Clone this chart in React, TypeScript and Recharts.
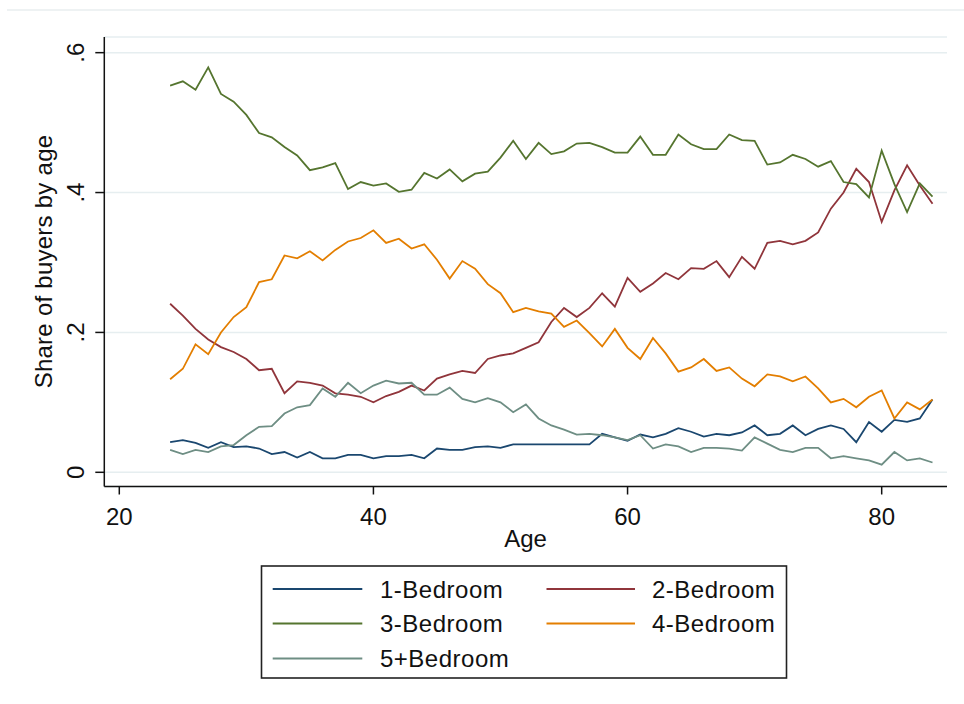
import React from "react";
import { LineChart, Line, XAxis, YAxis, CartesianGrid } from "recharts";

const ages: number[] = [
  24, 25, 26, 27, 28, 29, 30, 31, 32, 33, 34, 35, 36, 37, 38, 39, 40, 41, 42, 43, 44,
  45, 46, 47, 48, 49, 50, 51, 52, 53, 54, 55, 56, 57, 58, 59, 60, 61, 62, 63, 64,
  65, 66, 67, 68, 69, 70, 71, 72, 73, 74, 75, 76, 77, 78, 79, 80, 81, 82, 83, 84,
];

const bed1: number[] = [
  0.043, 0.046, 0.042, 0.035, 0.043, 0.036, 0.037, 0.034, 0.026, 0.029, 0.021,
  0.029, 0.02, 0.02, 0.025, 0.025, 0.02, 0.023, 0.023, 0.025, 0.02,
  0.034, 0.032, 0.032, 0.036, 0.037, 0.035, 0.04, 0.04, 0.04, 0.04, 0.04, 0.04, 0.04, 0.055, 0.05, 0.045,
  0.054, 0.05, 0.055, 0.063, 0.058, 0.051, 0.055, 0.053, 0.057, 0.067, 0.053, 0.055, 0.067, 0.053, 0.062,
  0.067, 0.062, 0.043, 0.072, 0.058, 0.075, 0.072, 0.077, 0.104,
];

const bed2: number[] = [
  0.241, 0.224, 0.205, 0.19, 0.179, 0.172, 0.162, 0.146, 0.148, 0.113, 0.13,
  0.128, 0.124, 0.113, 0.111, 0.108, 0.1, 0.109, 0.115, 0.124, 0.117,
  0.134, 0.14, 0.145, 0.142, 0.162, 0.167, 0.17, 0.178, 0.186, 0.215, 0.235, 0.222, 0.235, 0.256, 0.237, 0.278,
  0.258, 0.27, 0.285, 0.276, 0.292, 0.291, 0.302, 0.279, 0.308, 0.291, 0.328, 0.331, 0.326, 0.331, 0.343,
  0.377, 0.4, 0.434, 0.415, 0.358, 0.403, 0.439, 0.41, 0.384,
];

const bed3: number[] = [
  0.553, 0.559, 0.547, 0.579, 0.541, 0.53, 0.511, 0.485, 0.479, 0.465, 0.453,
  0.432, 0.436, 0.442, 0.405, 0.415, 0.41, 0.413, 0.401, 0.404, 0.428,
  0.42, 0.433, 0.416, 0.427, 0.43, 0.45, 0.474, 0.448, 0.471, 0.455, 0.459, 0.47, 0.471, 0.465, 0.457, 0.457,
  0.48, 0.454, 0.454, 0.483, 0.469, 0.462, 0.462, 0.483, 0.475, 0.474, 0.44, 0.443, 0.454, 0.448, 0.437,
  0.445, 0.415, 0.412, 0.393, 0.46, 0.412, 0.372, 0.413, 0.394,
];

const bed4: number[] = [
  0.133, 0.148, 0.183, 0.169, 0.2, 0.222, 0.236, 0.272, 0.276, 0.31, 0.306,
  0.316, 0.303, 0.318, 0.33, 0.335, 0.346, 0.328, 0.334, 0.32, 0.326,
  0.304, 0.277, 0.302, 0.291, 0.269, 0.256, 0.229, 0.235, 0.23, 0.227, 0.208, 0.217, 0.199, 0.18, 0.205, 0.178,
  0.162, 0.192, 0.17, 0.144, 0.15, 0.162, 0.145, 0.15, 0.134, 0.123, 0.14, 0.137, 0.13, 0.137, 0.12,
  0.1, 0.105, 0.093, 0.108, 0.117, 0.077, 0.1, 0.09, 0.104,
];

const bed5: number[] = [
  0.032, 0.026, 0.032, 0.029, 0.037, 0.039, 0.053, 0.065, 0.066, 0.084, 0.093,
  0.096, 0.12, 0.108, 0.128, 0.113, 0.124, 0.131, 0.127, 0.128, 0.111,
  0.111, 0.121, 0.105, 0.1, 0.106, 0.1, 0.086, 0.097, 0.077, 0.067, 0.061, 0.054, 0.055, 0.053, 0.05, 0.046,
  0.053, 0.034, 0.04, 0.037, 0.029, 0.035, 0.035, 0.034, 0.031, 0.05, 0.041, 0.032, 0.029, 0.035, 0.035,
  0.02, 0.023, 0.02, 0.017, 0.011, 0.029, 0.017, 0.02, 0.014,
];

const xTicks: number[] = [20, 40, 60, 80];
const yTicks: number[] = [0, 0.2, 0.4, 0.6];
const yTickLabels: string[] = ["0", ".2", ".4", ".6"];

const seriesNames: string[] = ["1-Bedroom", "2-Bedroom", "3-Bedroom", "4-Bedroom", "5+Bedroom"];
const seriesKeys: string[] = ["b1", "b2", "b3", "b4", "b5"];
const seriesColors: string[] = ["#1a476f", "#90353b", "#55752f", "#e37e00", "#6e8e84"];

const data = ages.map((a, i) => ({
  age: a,
  b1: bed1[i],
  b2: bed2[i],
  b3: bed3[i],
  b4: bed4[i],
  b5: bed5[i],
}));

const FONT = "'Liberation Sans', Arial, Helvetica, sans-serif";
const FS = 24;

const XTick = (props: any) => {
  const { x, y, payload } = props;
  return (
    <text x={x} y={y + 30.5} textAnchor="middle" fontFamily={FONT} fontSize={FS} fill="#111">
      {String(payload.value)}
    </text>
  );
};

const YTick = (props: any) => {
  const { x, y, payload } = props;
  const idx = yTicks.findIndex((t) => Math.abs(t - payload.value) < 1e-9);
  const label = idx >= 0 ? yTickLabels[idx] : String(payload.value);
  const bx = x - 11.3;
  return (
    <text
      x={bx}
      y={y}
      textAnchor="middle"
      fontFamily={FONT}
      fontSize={FS}
      fill="#111"
      transform={`rotate(-90, ${bx}, ${y})`}
    >
      {label}
    </text>
  );
};

export default function App() {
  const legendRows = [
    [0, 1],
    [2, 3],
    [4],
  ];
  const rowY = [589, 623.5, 658.5];
  const colSample = [
    [272.7, 362.3],
    [546.5, 635],
  ];
  const colText = [380, 652];
  return (
    <div style={{ position: "absolute", left: 0, top: 0, width: 964, height: 704, background: "#fff" }}>
      <div style={{ position: "absolute", left: 7, top: 9, width: 957, height: 2, background: "#eef2f3" }} />
      <div style={{ position: "absolute", left: 0, top: 0 }}>
        <LineChart
          width={964}
          height={704}
          data={data}
          margin={{ top: 37, right: 17, left: 0, bottom: 187.5 }}
        >
          <CartesianGrid vertical={false} stroke="#e6eef0" strokeWidth={1.5} />
          <XAxis
            dataKey="age"
            type="number"
            domain={[18.82, 85.14]}
            ticks={xTicks}
            allowDataOverflow
            height={30}
            tickSize={8}
            tickMargin={0}
            axisLine={{ stroke: "#111", strokeWidth: 1.5 }}
            tickLine={{ stroke: "#111", strokeWidth: 1.5 }}
            tick={<XTick />}
            interval={0}
          />
          <YAxis
            type="number"
            domain={[-0.0203, 0.6224]}
            ticks={yTicks}
            allowDataOverflow
            width={104.3}
            tickSize={9}
            tickMargin={0}
            axisLine={{ stroke: "#111", strokeWidth: 1.5 }}
            tickLine={{ stroke: "#111", strokeWidth: 1.5 }}
            tick={<YTick />}
            interval={0}
          />
          {seriesKeys.map((k, i) => (
            <Line
              key={k}
              dataKey={k}
              name={seriesNames[i]}
              stroke={seriesColors[i]}
              strokeWidth={1.8}
              dot={false}
              type="linear"
              isAnimationActive={false}
            />
          ))}
        </LineChart>
      </div>
      <svg
        width={964}
        height={704}
        style={{ position: "absolute", left: 0, top: 0, pointerEvents: "none" }}
      >
        <text
          x={52}
          y={261.5}
          textAnchor="middle"
          fontFamily={FONT}
          fontSize={FS}
          letterSpacing={0.25}
          fill="#111"
          transform="rotate(-90, 52, 261.5)"
        >
          Share of buyers by age
        </text>
        <text x={525.6} y={547} textAnchor="middle" fontFamily={FONT} fontSize={FS} fill="#111">
          Age
        </text>
        <rect x={261.5} y={566} width={525} height={112} fill="none" stroke="#222" strokeWidth={1.6} />
        {legendRows.map((row, r) =>
          row.map((si, c) => (
            <g key={si}>
              <line
                x1={colSample[c][0]}
                x2={colSample[c][1]}
                y1={rowY[r]}
                y2={rowY[r]}
                stroke={seriesColors[si]}
                strokeWidth={1.8}
              />
              <text
                x={colText[c]}
                y={rowY[r] + 8.5}
                fontFamily={FONT}
                fontSize={FS}
                letterSpacing={0.5}
                fill="#111"
              >
                {seriesNames[si]}
              </text>
            </g>
          ))
        )}
      </svg>
    </div>
  );
}
